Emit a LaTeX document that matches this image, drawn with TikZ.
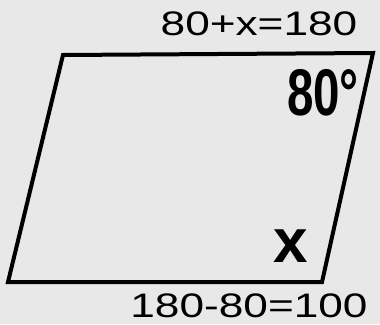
\documentclass[tikz,border=0pt]{standalone}
\usepackage{fontspec}
\setmainfont{Liberation Sans}
\usetikzlibrary{calc}

\tikzset{
  note/.style={font=\fontsize{34}{34}\selectfont, inner sep=0pt},
  angle label/.style={font=\bfseries\fontsize{66}{66}\selectfont, inner sep=0pt}
}

\begin{document}
\begin{tikzpicture}[x=1pt, y=-1pt]
  \fill[gray!18] (0,0) rectangle (380,324);
  \useasboundingbox (0,0) rectangle (380,324);
  % corners of the shape
  \coordinate (tl) at (63,55);
  \coordinate (tr) at (373,53);
  \coordinate (br) at (322,282);
  \coordinate (bl) at (8,282);
  \draw[line width=4pt, line join=miter] (tl) -- (tr) -- (br) -- (bl) -- cycle;
  % angles and working
  \node[angle label, xscale=0.72] (top angle) at (323,93) {80°};
  \node[angle label, font=\bfseries\fontsize{62}{62}\selectfont] (bottom angle) at (291,246) {x};
  \node[note, xscale=1.3] (sum) at (259,24) {80+x=180};
  \node[note, xscale=1.3] (diff) at (249,306) {180-80=100};
\end{tikzpicture}
\end{document}
